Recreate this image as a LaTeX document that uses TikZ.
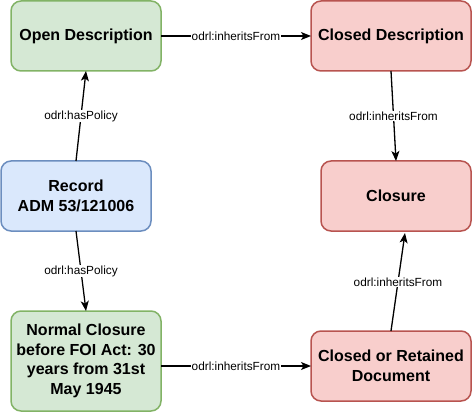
\documentclass[tikz,border=0pt]{standalone}
\usepackage{fontspec}
\setmainfont{Liberation Sans}
\usetikzlibrary{arrows.meta}
\definecolor{gfill}{HTML}{D5E8D4}
\definecolor{gline}{HTML}{82B366}
\definecolor{rfill}{HTML}{F8CECC}
\definecolor{rline}{HTML}{B85450}
\definecolor{bfill}{HTML}{DAE8FC}
\definecolor{bline}{HTML}{6C8EBF}
\tikzset{
  box/.style={rectangle, rounded corners=10pt, line width=1.5pt, align=center,
    font=\fontsize{16}{19.5}\selectfont\bfseries, inner sep=0pt, outer sep=0pt},
  gbox/.style={box, draw=gline, fill=gfill},
  rbox/.style={box, draw=rline, fill=rfill},
  bbox/.style={box, draw=bline, fill=bfill},
  conn/.style={line width=1.3pt, -{Stealth[length=10pt,width=8pt,inset=2.5pt]}},
  lbl/.style={fill=white, inner sep=0.5pt, font=\fontsize{11.8}{13}\selectfont}
}
\begin{document}
\begin{tikzpicture}[x=1pt,y=-1pt]
\useasboundingbox (0,0) rectangle (472,412);
\node[gbox, minimum width=150pt, minimum height=70pt] (open) at (86,36) {Open Description};
\node[rbox, minimum width=160pt, minimum height=70pt] (cdesc) at (391,36) {Closed Description};
\node[bbox, minimum width=150pt, minimum height=70pt] (record) at (76,196) {Record\\ADM 53/121006};
\node[rbox, minimum width=150pt, minimum height=70pt] (closure) at (396,196) {Closure};
\node[gbox, minimum width=150pt, minimum height=100pt] (normal) at (86,361) {Normal Closure\\before FOI Act: 30\\years from 31st\\May 1945};
\node[rbox, minimum width=160pt, minimum height=70pt] (cor) at (391,366) {Closed or Retained\\Document};
\draw[conn] (record.north) -- node[lbl] {odrl:hasPolicy} (open.south);
\draw[conn] (record.south) -- node[lbl] {odrl:hasPolicy} (normal.north);
\draw[conn] (open.east) -- node[lbl] {odrl:inheritsFrom} (cdesc.west);
\draw[conn] (cdesc.south) -- node[lbl] {odrl:inheritsFrom} (closure.north);
\draw[conn] (cor.north) -- node[lbl] {odrl:inheritsFrom} ([xshift=9pt,yshift=-2pt]closure.south);
\draw[conn] (normal.east |- cor.west) -- node[lbl] {odrl:inheritsFrom} (cor.west);
\end{tikzpicture}
\end{document}
